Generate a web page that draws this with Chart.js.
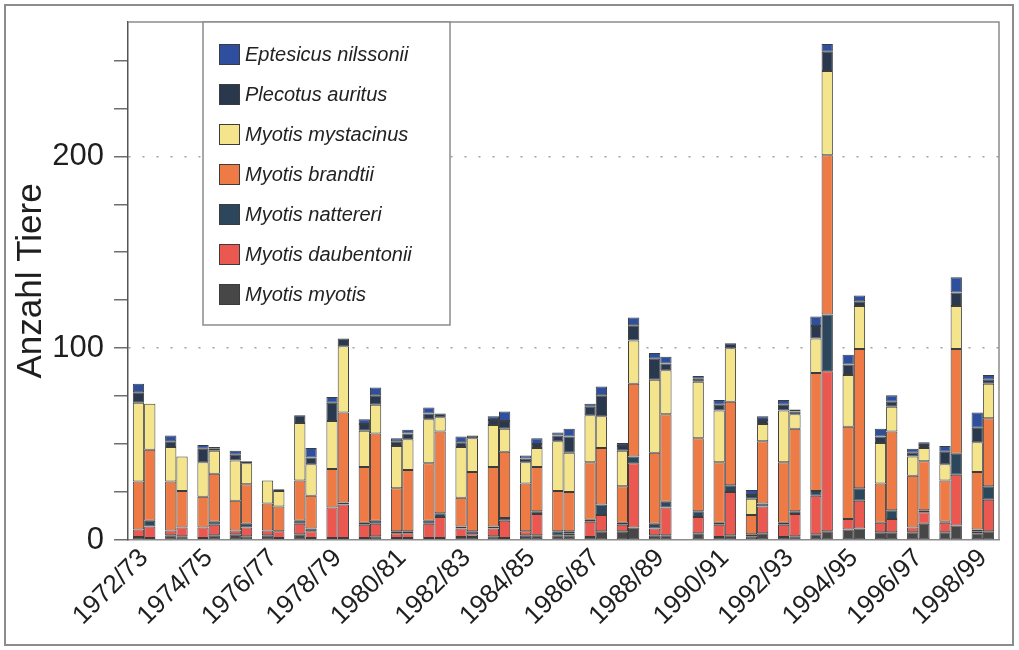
<!DOCTYPE html>
<html>
<head>
<meta charset="utf-8">
<script src="https://cdn.jsdelivr.net/npm/chart.js@4/dist/chart.umd.min.js"></script>
<style>
html, body { margin: 0; padding: 0; background: #fff; }
#wrap { position: relative; width: 1019px; height: 650px; }
#frame { position: absolute; left: 4px; top: 4px; width: 1010px; height: 642px; border: 2px solid #8c8c8c; box-sizing: border-box; pointer-events: none; }
</style>
</head>
<body>
<div id="wrap">
  <canvas id="myChart" width="1019" height="650"></canvas>
  <div id="frame"></div>
</div>
<script>
var seasons = ["1972/73", "1973/74", "1974/75", "1975/76", "1976/77", "1977/78", "1978/79",
               "1979/80", "1980/81", "1981/82", "1982/83", "1983/84", "1984/85", "1985/86",
               "1986/87", "1987/88", "1988/89", "1989/90", "1990/91", "1991/92", "1992/93",
               "1993/94", "1994/95", "1995/96", "1996/97", "1997/98", "1998/99"];

// two counts per winter (left bar = 1, right bar = 2)
var myotis1   = [1.5, 2.5, 1, 3, 2.5, 3, 1, 1, 1, 1, 1.5, 2, 2.5, 2.5, 1.5, 4.5, 2.5, null, 1.5, 2, 1.5, 3, 5.5, 4, 4, 4, 3.5];
var myotis2   = [1, 2, 2.5, 2, 1, 1, 1, 2, 1, 1, 1.5, 1, 2.5, 2.5, 4.5, 6.5, 2.5, 3.5, 2.5, 3.5, 2, 4.5, 6, 4, 8.5, 7.5, 4.5];
var daub1     = [4, 2.5, 5.5, 2, 2.5, 5.5, 16, 7, 2.5, 7.5, 4.5, 4, 2, 0, 8, 3.5, 3.5, null, 6.5, 1, 6.5, 20, 5.5, 5, 2.5, 5, 1];
var daub2     = [6, 4.5, 5.5, 4.5, 3.5, 3.5, 17.5, 6.5, 2.5, 11, 1.5, 9, 11, 1, 8.5, 33.5, 14.5, 8.5, 22.5, 14, 11.5, 83.5, 14.5, 7, 6, 26.5, 16.5];
var natt1     = [0, 0, 0, 0, 0, 1.5, 0, 1, 1, 1.5, 1, 1, 0, 2, 1, 1, 2.5, null, 1, 0, 1, 2.5, 0, 0, 0, 0.5, 1];
var natt2     = [3, 0, 1.5, 2, 0, 1.5, 1, 1.5, 1, 2, 1.5, 1.5, 1.5, 1, 5.5, 3.5, 3, 3, 3.5, 1.5, 1.5, 29.5, 6.5, 4.5, 1, 11, 7];
var brandt1   = [25, 25.5, 16, 15.5, 14, 21, 20, 29, 22.5, 30, 15, 31, 25, 21, 30, 19, 37, null, 31.5, 10, 31.5, 61.5, 48, 20.5, 27, 21.5, 30];
var brandt2   = [37, 19, 25, 20.5, 13, 17, 47, 45.5, 32, 42.5, 31, 34.5, 23, 20.5, 29.5, 38, 45.5, 38, 43.5, 32.5, 43, 83, 72.5, 41, 25.5, 54.5, 35.5];
var myst1     = [41, 18, 18, 21, 12, 30, 25, 19, 22, 23, 26.5, 22, 11, 26, 24.5, 18.5, 38, null, 27, 8.5, 27, 18, 27, 21, 10, 8.5, 15.5];
var myst2     = [24, 18, 12, 11, 8, 16.5, 34.5, 15, 16, 7.5, 17.5, 12, 10, 20.5, 16.5, 22.5, 23, 29.5, 28, 9, 7.5, 44, 22.5, 13, 7, 22.5, 18];
var plec1     = [5.5, 3, 7, 3, 0, 4, 9.5, 3.5, 2.5, 3, 2.5, 2.5, 2, 3, 4.5, 2.5, 11, null, 3, 2, 3, 6.5, 5.5, 3.5, 2, 6.5, 7.5];
var plec2     = [0, 0, 1, 1, 1, 3.5, 4, 5, 3, 2, 1.5, 4, 2, 8.5, 11, 8, 3.5, 1.5, 2.5, 2, 1.5, 10, 2.5, 2.5, 1.5, 7, 2];
var ept1      = [4.5, 3, 2, 2, 0, 0, 3, 2.5, 1.5, 3, 3, 2, 1.5, 1.5, 1.5, 1.5, 3, null, 2.5, 2.5, 2.5, 5, 5, 4, 2, 3, 8];
var ept2      = [0, 0, 1, 0, 0, 5, 0, 4, 2, 0, 0, 5, 3, 4, 4.5, 4, 3.5, 1.5, 0, 2, 1, 4, 3, 3.5, 1.5, 8, 2.5];

// bottom to top
var species = ["Myotis myotis", "Myotis daubentonii", "Myotis nattereri", "Myotis brandtii",
               "Myotis mystacinus", "Plecotus auritus", "Eptesicus nilssonii"];
var colors  = ["#474747", "#ea5850", "#2c475c", "#ee7b45", "#f4e58c", "#29384d", "#2d4f9e"];
var first   = [myotis1, daub1, natt1, brandt1, myst1, plec1, ept1];
var second  = [myotis2, daub2, natt2, brandt2, myst2, plec2, ept2];

var yTicks = [0, 100, 200];

var FONT = "'Liberation Sans', Arial, Helvetica, sans-serif";
Chart.defaults.font.family = FONT;
Chart.defaults.color = "#1e1e1e";

var datasets = [];
for (var i = 0; i < species.length; i++) {
    datasets.push({ label: species[i], data: first[i], stack: "z1", backgroundColor: colors[i],
                    borderColor: "#3c3c3c", borderWidth: 1, borderSkipped: false });
    datasets.push({ label: species[i], data: second[i], stack: "z2", backgroundColor: colors[i],
                    borderColor: "#3c3c3c", borderWidth: 1, borderSkipped: false });
}

var boxPlugin = {
    id: "boxPlugin",
    beforeDraw: function(chart) {
        var c = chart.ctx;
        c.save();
        c.fillStyle = "#fff";
        c.fillRect(0, 0, chart.width, chart.height);
        c.restore();
    },
    afterDraw: function(chart) {
        var c = chart.ctx, a = chart.chartArea;
        c.save();
        // top and right edge of plot
        c.strokeStyle = "#8c8c8c";
        c.lineWidth = 1.5;
        c.beginPath();
        c.moveTo(a.left, a.top);
        c.lineTo(a.right, a.top);
        c.lineTo(a.right, a.bottom);
        c.stroke();

        // legend box
        var lx = 203, ly = a.top, lw = 247, lh = 303;
        c.fillStyle = "#fff";
        c.fillRect(lx, ly, lw, lh);
        c.strokeStyle = "#8c8c8c";
        c.lineWidth = 1.5;
        c.strokeRect(lx, ly, lw, lh);

        c.font = "italic 20px " + FONT;
        c.textBaseline = "middle";
        c.textAlign = "left";
        for (var k = 0; k < species.length; k++) {
            var s = species.length - 1 - k;
            var cy = 54.5 + k * 40;
            c.fillStyle = colors[s];
            c.fillRect(219, cy - 10.5, 21, 21);
            c.strokeStyle = "#3c3c3c";
            c.lineWidth = 1;
            c.strokeRect(219.5, cy - 10, 20, 20);
            c.fillStyle = "#222";
            c.fillText(species[s], 245, cy + 1);
        }
        c.restore();
    }
};

var ctx = document.getElementById("myChart");
var myChart = new Chart(ctx, {
    type: "bar",
    data: { labels: seasons, datasets: datasets },
    options: {
        responsive: false,
        devicePixelRatio: 1,
        animation: false,
        layout: { padding: { top: 22, right: 20, left: 0, bottom: 0 } },
        plugins: { legend: { display: false }, tooltip: { enabled: false } },
        datasets: { bar: { categoryPercentage: 0.7, barPercentage: 1.0 } },
        scales: {
            x: {
                stacked: true,
                grid: { display: false, drawTicks: false },
                border: { display: true, color: "#8c8c8c", width: 1.5 },
                ticks: {
                    autoSkip: false, maxRotation: 45, minRotation: 45, padding: 3,
                    font: { size: 26 }, color: "#1e1e1e",
                    callback: function(v, i) { return i % 2 === 0 ? seasons[i] : ""; }
                },
                afterFit: function(s) { s.height = 110; }
            },
            y: {
                stacked: true,
                min: 0, max: 270,
                ticks: {
                    stepSize: 25, includeBounds: false, padding: 10,
                    font: { size: 31 }, color: "#1e1e1e",
                    callback: function(v) { return yTicks.indexOf(v) >= 0 ? v : ""; }
                },
                grid: {
                    tickLength: 14,
                    tickColor: "#6e6e6e",
                    lineWidth: 1.5,
                    color: function(c) {
                        return (c.tick && c.tick.value > 0 && yTicks.indexOf(c.tick.value) >= 0) ? "#a0a0a0" : "rgba(0,0,0,0)";
                    }
                },
                border: { display: true, color: "#555", width: 1.5, dash: [2, 12] },
                title: {
                    display: true, text: "Anzahl Tiere",
                    font: { size: 35 }, color: "#1e1e1e",
                    padding: { top: 10, bottom: 0 }
                },
                afterFit: function(s) { s.width = 128; s.paddingTop = 0; s.paddingBottom = 0; }
            }
        }
    },
    plugins: [boxPlugin]
});
</script>
</body>
</html>
